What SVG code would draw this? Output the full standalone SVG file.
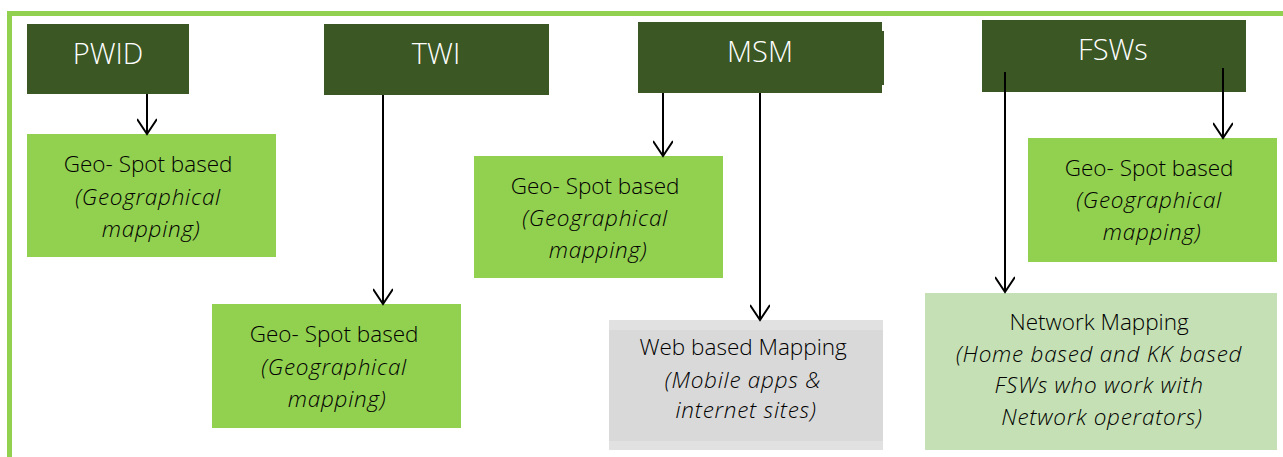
<svg xmlns="http://www.w3.org/2000/svg" width="1283" height="457" viewBox="0 0 1283 457">
  <defs>
    <marker id="open-arrow" markerWidth="24" markerHeight="20" refX="20" refY="10" orient="auto" markerUnits="userSpaceOnUse">
      <path d="M5,0 L20,10 L5,20" fill="none" stroke="#000" stroke-width="2"/>
    </marker>
    <style>
      .head { fill: #3A5724; }
      .leaf { fill: #92D050; }
      .net { fill: #C5E0B4; }
      .web-band { fill: #E1E1E1; }
      .web { fill: #D9D9D9; }
      .frame { fill: none; stroke: #92D050; stroke-width: 5; }
      .head-label { font-family: "Open Sans", "Liberation Sans", sans-serif; font-weight: 300; font-size: 29px; fill: #FFFFFF; text-anchor: middle; }
      .label { font-family: "Open Sans", "Liberation Sans", sans-serif; font-weight: 300; font-size: 22.5px; fill: #000000; text-anchor: middle; }
      .label .it { font-style: italic; letter-spacing: 0.75px; }
      .conn { stroke: #000; stroke-width: 2; fill: none; marker-end: url(#open-arrow); }
    </style>
  </defs>

  <!-- outer frame: top and left rules -->
  <path class="frame" d="M9.5,460 L9.5,13.5 L1290,13.5"/>

  <!-- header boxes -->
  <g id="pwid">
    <rect class="head" x="27" y="24" width="162" height="70"/>
    <text class="head-label" x="108" y="64">PWID</text>
  </g>
  <g id="twi">
    <rect class="head" x="324" y="24" width="225" height="71"/>
    <text class="head-label" x="436" y="64">TWI</text>
  </g>
  <g id="msm">
    <rect class="head" x="638" y="22" width="244" height="71"/>
    <rect class="head" x="881" y="31" width="3" height="54"/>
    <text class="head-label" x="760" y="62">MSM</text>
  </g>
  <g id="fsws">
    <rect class="head" x="982" y="20" width="264" height="72"/>
    <text class="head-label" x="1113" y="60">FSWs</text>
  </g>

  <!-- mapping boxes -->
  <g id="pwid-geo">
    <rect class="leaf" x="27" y="134" width="249" height="123"/>
    <text class="label" x="151">
      <tspan x="151" y="172">Geo- Spot based</tspan>
      <tspan class="it" x="151" y="205">(Geographical</tspan>
      <tspan class="it" x="151" y="237">mapping)</tspan>
    </text>
  </g>
  <g id="twi-geo">
    <rect class="leaf" x="212" y="304" width="249" height="124"/>
    <text class="label" x="337">
      <tspan x="337" y="342">Geo- Spot based</tspan>
      <tspan class="it" x="337" y="375">(Geographical</tspan>
      <tspan class="it" x="337" y="407">mapping)</tspan>
    </text>
  </g>
  <g id="msm-geo">
    <rect class="leaf" x="474" y="156" width="249" height="122"/>
    <text class="label" x="598">
      <tspan x="598" y="194">Geo- Spot based</tspan>
      <tspan class="it" x="598" y="226">(Geographical</tspan>
      <tspan class="it" x="598" y="258">mapping)</tspan>
    </text>
  </g>
  <g id="msm-web">
    <rect class="web-band" x="609" y="320" width="274" height="130"/>
    <rect class="web" x="609" y="330" width="274" height="111"/>
    <text class="label" x="746">
      <tspan x="746" y="355">Web based Mapping</tspan>
      <tspan class="it" x="746" y="388">(Mobile apps &amp;</tspan>
      <tspan class="it" x="746" y="418">internet sites)</tspan>
    </text>
  </g>
  <g id="fsws-geo">
    <rect class="leaf" x="1028" y="138" width="249" height="124"/>
    <text class="label" x="1152">
      <tspan x="1152" y="176">Geo- Spot based</tspan>
      <tspan class="it" x="1152" y="208">(Geographical</tspan>
      <tspan class="it" x="1152" y="240">mapping)</tspan>
    </text>
  </g>
  <g id="fsws-network">
    <rect class="net" x="925" y="293" width="352" height="157"/>
    <text class="label" x="1102">
      <tspan x="1102" y="330">Network Mapping</tspan>
      <tspan class="it" x="1102" y="362">(Home based and KK based</tspan>
      <tspan class="it" x="1102" y="393">FSWs who work with</tspan>
      <tspan class="it" x="1102" y="425">Network operators)</tspan>
    </text>
  </g>

  <!-- connectors -->
  <g id="connectors">
    <line class="conn" x1="147" y1="94" x2="147" y2="134"/>
    <line class="conn" x1="383" y1="95" x2="383" y2="304"/>
    <line class="conn" x1="663" y1="93" x2="663" y2="156"/>
    <line class="conn" x1="760" y1="93" x2="760" y2="320"/>
    <line class="conn" x1="1005" y1="72" x2="1005" y2="292"/>
    <line class="conn" x1="1223" y1="68" x2="1223" y2="138"/>
  </g>
</svg>
